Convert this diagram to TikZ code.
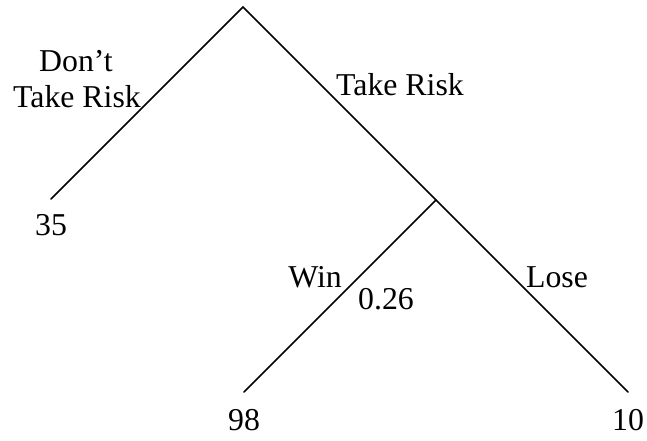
\documentclass[tikz,border=0pt]{standalone}
\usepackage{fontspec}
\setmainfont{Liberation Serif}
\begin{document}
\begin{tikzpicture}[x=1pt,y=-1pt,
  branch/.style={line width=1.5pt,line cap=round},
  lbl/.style={anchor=base,inner sep=0pt,font=\fontsize{31.8}{36}\selectfont}]
\useasboundingbox (0,0) rectangle (647,440);
\coordinate (root) at (243,7);
\coordinate (leftend) at (51,199);
\coordinate (chance) at (436,200);
\coordinate (winend) at (244,392);
\coordinate (loseend) at (628,392);
\draw[branch] (leftend) -- (root) -- (chance) -- (loseend);
\draw[branch] (chance) -- (winend);
\node[lbl] (dont) at (76,71) {Don’t};
\node[lbl] (dontrisk) at (77,107) {Take Risk};
\node[lbl] (take) at (400,95) {Take Risk};
\node[lbl] (v35) at (51,235) {35};
\node[lbl] (win) at (315,287) {Win};
\node[lbl] (prob) at (386,309) {0.26};
\node[lbl] (lose) at (557,287) {Lose};
\node[lbl] (v98) at (244,430) {98};
\node[lbl] (v10) at (628,430) {10};
\end{tikzpicture}
\end{document}
